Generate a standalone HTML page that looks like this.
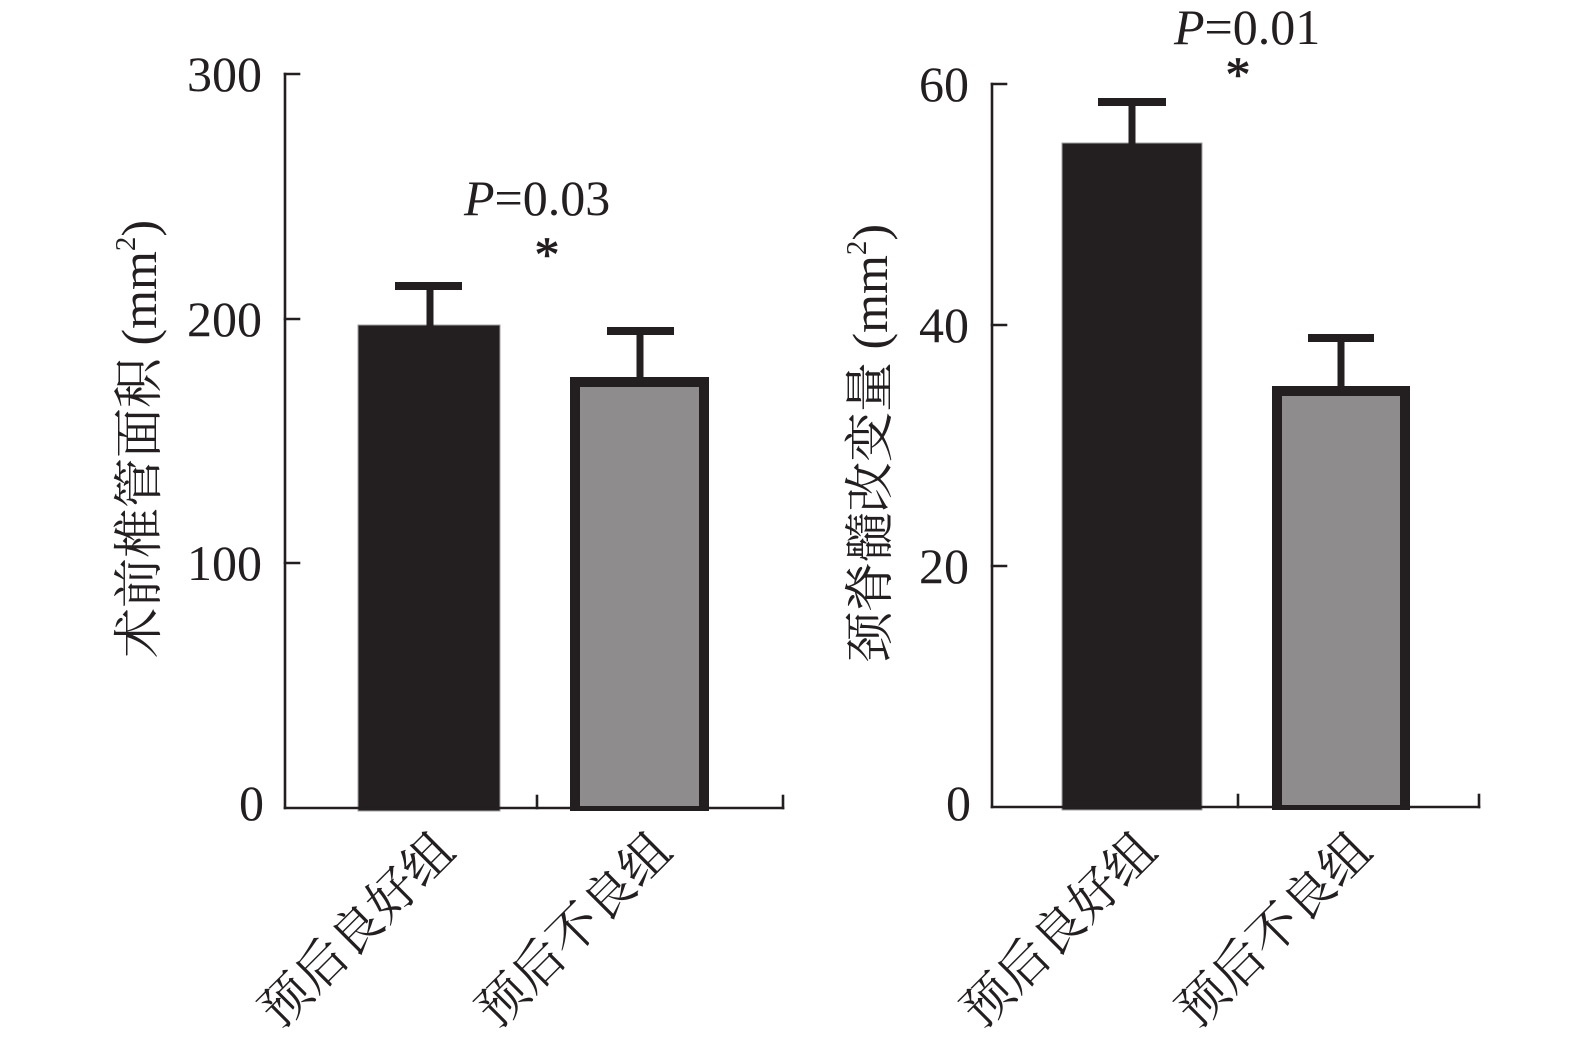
<!DOCTYPE html>
<html>
<head>
<meta charset="utf-8">
<style>
  html, body { margin:0; padding:0; background:#ffffff; }
  body { width:1575px; height:1046px; overflow:hidden; }
  svg { display:block; }
  .num { font-family:"Liberation Serif", "Noto Serif CJK SC", serif; font-size:50px; fill:#231f20; }
  .cjk { font-family:"Liberation Serif", "Noto Serif CJK SC", serif; font-size:50px; fill:#231f20; }
</style>
</head>
<body>
<svg width="1575" height="1046" viewBox="0 0 1575 1046" xmlns="http://www.w3.org/2000/svg">
  <rect x="0" y="0" width="1575" height="1046" fill="#ffffff"/>

  <!-- ================= LEFT CHART ================= -->
  <rect x="358" y="325" width="142" height="486" fill="#231f20" stroke="#a0a0a0" stroke-width="1"/>
  <rect x="570" y="377" width="139" height="434" fill="#231f20"/>
  <rect x="580" y="387" width="119" height="419" fill="#8e8c8d"/>
  <rect x="426.5" y="286" width="7" height="40" fill="#231f20"/>
  <rect x="395" y="282" width="67" height="8" fill="#231f20"/>
  <rect x="636.5" y="331" width="7" height="47" fill="#231f20"/>
  <rect x="607" y="327" width="67" height="8" fill="#231f20"/>
  <g stroke="#231f20" stroke-width="2.6" fill="none" stroke-linecap="square">
    <line x1="285" y1="74" x2="285" y2="808"/>
    <line x1="285" y1="74" x2="299" y2="74"/>
    <line x1="285" y1="319" x2="299" y2="319"/>
    <line x1="285" y1="563" x2="299" y2="563"/>
    <line x1="285" y1="808" x2="783" y2="808"/>
    <line x1="537" y1="796" x2="537" y2="808"/>
    <line x1="783" y1="796" x2="783" y2="808"/>
  </g>
  <text class="num" x="262" y="91" text-anchor="end">300</text>
  <text class="num" x="262" y="336" text-anchor="end">200</text>
  <text class="num" x="262" y="580" text-anchor="end">100</text>
  <text class="num" x="264" y="820" text-anchor="end">0</text>
  <text class="num" x="464" y="215" font-size="53"><tspan font-style="italic">P</tspan>=0.03</text>
  <text class="num" x="547" y="271" text-anchor="middle" font-size="64" stroke="#231f20" stroke-width="0.8">*</text>
  <text class="cjk" transform="translate(156,439) rotate(-90)" text-anchor="middle" font-size="53">术前椎管面积 (mm<tspan font-size="29" dy="-21">2</tspan><tspan dy="21">)</tspan></text>
  <text class="cjk" transform="translate(357,930) rotate(-45)" text-anchor="middle" dominant-baseline="central" font-size="51">预后良好组</text>
  <text class="cjk" transform="translate(574,930) rotate(-45)" text-anchor="middle" dominant-baseline="central" font-size="51">预后不良组</text>

  <!-- ================= RIGHT CHART ================= -->
  <rect x="1062" y="143" width="140" height="667" fill="#231f20" stroke="#a0a0a0" stroke-width="1"/>
  <rect x="1272" y="386" width="138" height="424" fill="#231f20"/>
  <rect x="1282" y="396" width="118" height="409" fill="#8e8c8d"/>
  <rect x="1128.5" y="101" width="7" height="43" fill="#231f20"/>
  <rect x="1098" y="98" width="68" height="8" fill="#231f20"/>
  <rect x="1337.5" y="337" width="7" height="50" fill="#231f20"/>
  <rect x="1308" y="334" width="66" height="8" fill="#231f20"/>
  <g stroke="#231f20" stroke-width="2.6" fill="none" stroke-linecap="square">
    <line x1="992" y1="84" x2="992" y2="807"/>
    <line x1="992" y1="84" x2="1006" y2="84"/>
    <line x1="992" y1="325" x2="1006" y2="325"/>
    <line x1="992" y1="566" x2="1006" y2="566"/>
    <line x1="992" y1="807" x2="1479" y2="807"/>
    <line x1="1238" y1="795" x2="1238" y2="807"/>
    <line x1="1479" y1="795" x2="1479" y2="807"/>
  </g>
  <text class="num" x="969" y="101" text-anchor="end">60</text>
  <text class="num" x="969" y="342" text-anchor="end">40</text>
  <text class="num" x="969" y="583" text-anchor="end">20</text>
  <text class="num" x="971" y="820" text-anchor="end">0</text>
  <text class="num" x="1174" y="44" font-size="53"><tspan font-style="italic">P</tspan>=0.01</text>
  <text class="num" x="1238" y="91" text-anchor="middle" font-size="64" stroke="#231f20" stroke-width="0.8">*</text>
  <text class="cjk" transform="translate(887,443) rotate(-90)" text-anchor="middle" font-size="53">颈脊髓改变量 (mm<tspan font-size="29" dy="-21">2</tspan><tspan dy="21">)</tspan></text>
  <text class="cjk" transform="translate(1059,930) rotate(-45)" text-anchor="middle" dominant-baseline="central" font-size="51">预后良好组</text>
  <text class="cjk" transform="translate(1274,930) rotate(-45)" text-anchor="middle" dominant-baseline="central" font-size="51">预后不良组</text>
</svg>
</body>
</html>
